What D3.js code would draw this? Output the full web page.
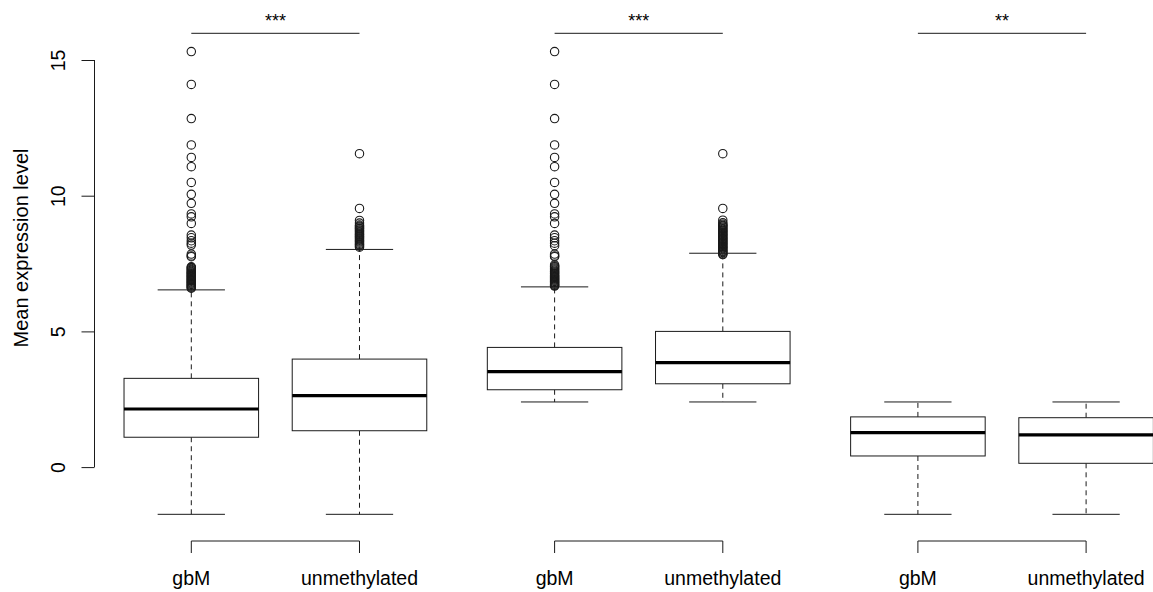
<!DOCTYPE html>
<html>
<head>
<meta charset="utf-8">
<script src="https://cdn.jsdelivr.net/npm/d3@7"></script>
<style>
  html, body { margin: 0; padding: 0; background: #fff; }
  svg { display: block; }
  text { font-family: "Liberation Sans", Arial, sans-serif; fill: #000; }
</style>
</head>
<body>
<svg id="chart" width="1153" height="592"></svg>
<script>
// ---- data ----
const categories = ["gbM", "unmethylated", "gbM", "unmethylated", "gbM", "unmethylated"];
const groupOf = [0, 0, 1, 1, 2, 2];
const whiskerLow  = [-1.74, -1.74, 2.40, 2.40, -1.74, -1.74];
const q1          = [1.10, 1.34, 2.85, 3.07, 0.41, 0.14];
const medians     = [2.14, 2.63, 3.52, 3.85, 1.27, 1.19];
const q3          = [3.27, 3.98, 4.41, 5.00, 1.85, 1.82];
const whiskerHigh = [6.53, 8.02, 6.64, 7.88, 2.40, 2.40];
const outliersGbM1 = [15.31, 14.10, 12.84, 11.87, 11.41, 11.07, 10.49, 10.05, 9.72, 9.33, 9.22, 8.98,
  8.55, 8.45, 8.34, 8.25, 8.18, 7.85, 7.78, 7.75, 7.38, 7.35, 7.32, 7.28, 7.25, 7.21, 7.18, 7.15,
  7.12, 7.09, 7.06, 7.03, 7.0, 6.97, 6.94, 6.91, 6.88, 6.85, 6.82, 6.79, 6.76, 6.73, 6.70, 6.67,
  6.64, 6.61, 6.59];
const outliersUnm1 = [11.55, 9.53, 9.09, 8.99, 8.92, 8.88, 8.85, 8.81, 8.78, 8.74, 8.70, 8.66, 8.62,
  8.58, 8.55, 8.51, 8.48, 8.44, 8.40, 8.36, 8.33, 8.29, 8.25, 8.21, 8.18, 8.14, 8.10];
const outliersGbM2 = [15.31, 14.10, 12.84, 11.87, 11.41, 11.07, 10.49, 10.05, 9.72, 9.33, 9.22, 8.98,
  8.55, 8.45, 8.34, 8.25, 8.16, 7.85, 7.78, 7.75, 7.45, 7.41, 7.38, 7.34, 7.30, 7.26, 7.22, 7.19,
  7.15, 7.12, 7.08, 7.05, 7.02, 6.99, 6.96, 6.93, 6.90, 6.87, 6.84, 6.81, 6.78, 6.75, 6.72, 6.69,
  6.67];
const outliersUnm2 = [11.55, 9.53, 9.10, 9.00, 8.95, 8.91, 8.88, 8.84, 8.80, 8.76, 8.72, 8.69, 8.65,
  8.61, 8.57, 8.54, 8.50, 8.46, 8.42, 8.39, 8.35, 8.31, 8.27, 8.24, 8.20, 8.16, 8.12, 8.09, 8.05,
  8.01, 7.97, 7.94, 7.90, 7.86, 7.83];
const outliersGbM3 = [];
const outliersUnm3 = [];
const outliers = [outliersGbM1, outliersUnm1, outliersGbM2, outliersUnm2, outliersGbM3, outliersUnm3];
const sigLabels = ["***", "***", "**"];
const yTicks = [0, 5, 10, 15];
const yTitle = "Mean expression level";

// ---- layout ----
const svg = d3.select("#chart");
const groupGap = 0.16;
const pos = categories.map((c, i) => 1 + i + groupOf[i] * groupGap);
const x = d3.scaleLinear().domain([1, 1 + 5 + 2 * groupGap]).range([191.3, 1086.1]);
const y = d3.scaleLinear().domain([0, 15]).range([467.1, 60]);
const unit = x(2) - x(1);
const boxW = 0.8 * unit;
const capW = boxW / 2;
const lineCol = "#1a1a1a";

// y axis
const axisX = 94.5;
const yAxis = d3.axisLeft(y).tickValues(yTicks).tickSize(13).tickFormat(d3.format("d"));
const gy = svg.append("g").attr("transform", `translate(${axisX},0)`).call(yAxis);
gy.select(".domain").attr("stroke", lineCol).attr("d", `M0,${y(0)}V${y(15)}`);
gy.selectAll(".tick line").attr("stroke", lineCol);
gy.selectAll(".tick text").remove();
gy.selectAll(".tick").append("text")
  .attr("transform", "translate(-29.5,0) rotate(-90)")
  .attr("text-anchor", "middle")
  .style("font-size", "19.5px")
  .text(d => d);

svg.append("text")
  .attr("transform", `translate(28,248) rotate(-90)`)
  .attr("text-anchor", "middle")
  .style("font-size", "20px")
  .text(yTitle);

// boxes
const boxes = svg.append("g");
categories.forEach((c, i) => {
  const cx = x(pos[i]);
  const g = boxes.append("g");
  g.append("line").attr("x1", cx).attr("x2", cx).attr("y1", y(q3[i])).attr("y2", y(whiskerHigh[i]))
    .attr("stroke", lineCol).attr("stroke-dasharray", "5,4");
  g.append("line").attr("x1", cx).attr("x2", cx).attr("y1", y(q1[i])).attr("y2", y(whiskerLow[i]))
    .attr("stroke", lineCol).attr("stroke-dasharray", "5,4");
  [whiskerHigh[i], whiskerLow[i]].forEach(v => {
    g.append("line").attr("x1", cx - capW / 2).attr("x2", cx + capW / 2)
      .attr("y1", y(v)).attr("y2", y(v)).attr("stroke", lineCol);
  });
  g.append("rect").attr("x", cx - boxW / 2).attr("y", y(q3[i]))
    .attr("width", boxW).attr("height", y(q1[i]) - y(q3[i]))
    .attr("fill", "#fff").attr("stroke", lineCol);
  g.append("line").attr("x1", cx - boxW / 2).attr("x2", cx + boxW / 2)
    .attr("y1", y(medians[i])).attr("y2", y(medians[i]))
    .attr("stroke", "#000").attr("stroke-width", 3.2);
  g.selectAll("circle").data(outliers[i]).join("circle")
    .attr("cx", cx).attr("cy", d => y(d)).attr("r", 4.2)
    .attr("fill", "none").attr("stroke", lineCol).attr("stroke-width", 1.1);
  svg.append("text").attr("x", cx).attr("y", 585)
    .attr("text-anchor", "middle").style("font-size", "19.5px").text(c);
});

// brackets and significance
sigLabels.forEach((s, k) => {
  const xa = x(pos[2 * k]), xb = x(pos[2 * k + 1]);
  svg.append("line").attr("x1", xa).attr("x2", xb).attr("y1", 33.3).attr("y2", 33.3).attr("stroke", lineCol);
  svg.append("text").attr("x", (xa + xb) / 2).attr("y", 27)
    .attr("text-anchor", "middle").style("font-size", "18px").text(s);
  svg.append("path")
    .attr("d", `M${xa},553V541H${xb}V553`)
    .attr("fill", "none").attr("stroke", lineCol);
});
</script>
</body>
</html>
